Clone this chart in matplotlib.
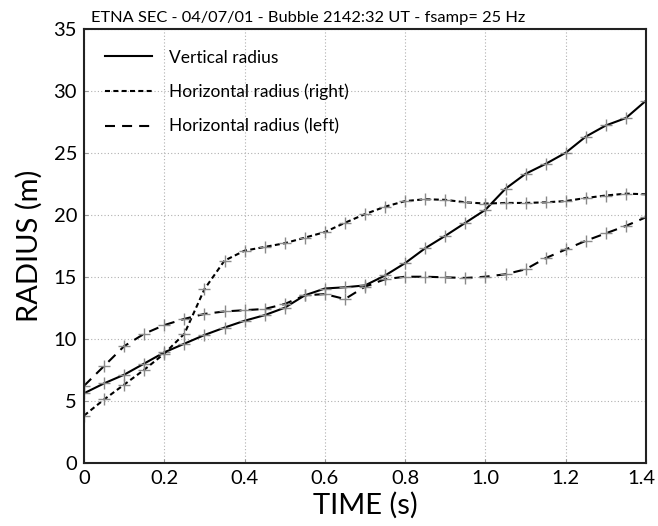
import matplotlib
matplotlib.use("Agg")
import matplotlib.pyplot as plt
import matplotlib.transforms as mtransforms

# time samples (s)
time_s = [0.00, 0.05, 0.10, 0.15, 0.20, 0.25, 0.30, 0.35, 0.40, 0.45,
          0.50, 0.55, 0.60, 0.65, 0.70, 0.75, 0.80, 0.85, 0.90, 0.95,
          1.00, 1.05, 1.10, 1.15, 1.20, 1.25, 1.30, 1.35, 1.40]

vertical_radius = [5.6, 6.4, 7.1, 8.0, 8.9, 9.6, 10.3, 10.9, 11.45, 11.9,
                   12.5, 13.5, 14.05, 14.15, 14.3, 15.1, 16.1, 17.3, 18.3, 19.35,
                   20.4, 22.1, 23.3, 24.1, 25.0, 26.3, 27.2, 27.8, 29.2]

right_radius = [3.8, 5.1, 6.3, 7.5, 8.8, 10.4, 14.0, 16.3, 17.1, 17.4,
                17.7, 18.15, 18.6, 19.35, 20.05, 20.65, 21.1, 21.25, 21.2, 21.0,
                20.9, 20.95, 20.95, 21.0, 21.1, 21.35, 21.55, 21.7, 21.65]

left_radius = [6.2, 7.8, 9.4, 10.4, 11.1, 11.6, 12.0, 12.2, 12.3, 12.4,
               12.8, 13.5, 13.6, 13.2, 14.2, 14.8, 15.0, 15.0, 14.95, 14.9,
               15.0, 15.2, 15.6, 16.5, 17.2, 17.9, 18.5, 19.1, 19.8]

x_ticks = [0, 0.2, 0.4, 0.6, 0.8, 1.0, 1.2, 1.4]
x_tick_labels = ["0", "0.2", "0.4", "0.6", "0.8", "1.0", "1.2", "1.4"]
y_ticks = [0, 5, 10, 15, 20, 25, 30, 35]

plt.rcParams["font.family"] = ["Lato", "DejaVu Sans"]

fig = plt.figure(figsize=(6.58, 5.26), dpi=100)
ax = fig.add_axes([0.1277, 0.1203, 0.8541, 0.8251])

mk = dict(marker="+", markersize=9, markeredgecolor="#8a8a8a", markeredgewidth=1.0)
ax.plot(time_s, vertical_radius, color="black", lw=1.5, linestyle="-", **mk)
ax.plot(time_s, right_radius, color="black", lw=1.5, linestyle=(0, (2.4, 1.6)), **mk)
ax.plot(time_s, left_radius, color="black", lw=1.5, linestyle=(0, (4.8, 3.4)), **mk)

# legend handles without markers
h1, = ax.plot([], [], color="black", lw=1.5, linestyle="-")
h2, = ax.plot([], [], color="black", lw=1.5, linestyle=(0, (2.4, 1.6)))
h3, = ax.plot([], [], color="black", lw=1.5, linestyle=(0, (4.8, 3.4)))
ax.legend([h1, h2, h3],
          ["Vertical radius", "Horizontal radius (right)", "Horizontal radius (left)"],
          loc="upper left", frameon=False, fontsize=12.5, handlelength=2.7,
          handletextpad=1.0, labelspacing=1.05, borderaxespad=0.7,
          borderpad=0.5)

ax.set_xlim(0, 1.4)
ax.set_ylim(0, 35)
ax.set_xticks(x_ticks)
ax.set_xticklabels(x_tick_labels)
ax.set_yticks(y_ticks)
ax.tick_params(direction="in", length=3, labelsize=14.5, pad=5, color="#999999")
ax.grid(True, linestyle=(0, (1, 2)), color="#b0b0b0", lw=0.8)
for s in ax.spines.values():
    s.set_linewidth(1.5)
    s.set_color("#222222")

# keep the last x label inside the figure edge
last = ax.get_xticklabels()[-1]
last.set_transform(last.get_transform() +
                   mtransforms.ScaledTranslation(-3 / 72, 0, fig.dpi_scale_trans))

ax.set_xlabel("TIME (s)", fontsize=21, labelpad=4)
ax.set_ylabel("RADIUS (m)", fontsize=21, labelpad=8)
ax.text(0.012, 1.008, "ETNA SEC - 04/07/01 - Bubble 2142:32 UT - fsamp= 25 Hz",
        transform=ax.transAxes, ha="left", va="bottom", fontsize=11.8)

fig.savefig("out.png", dpi=100)
